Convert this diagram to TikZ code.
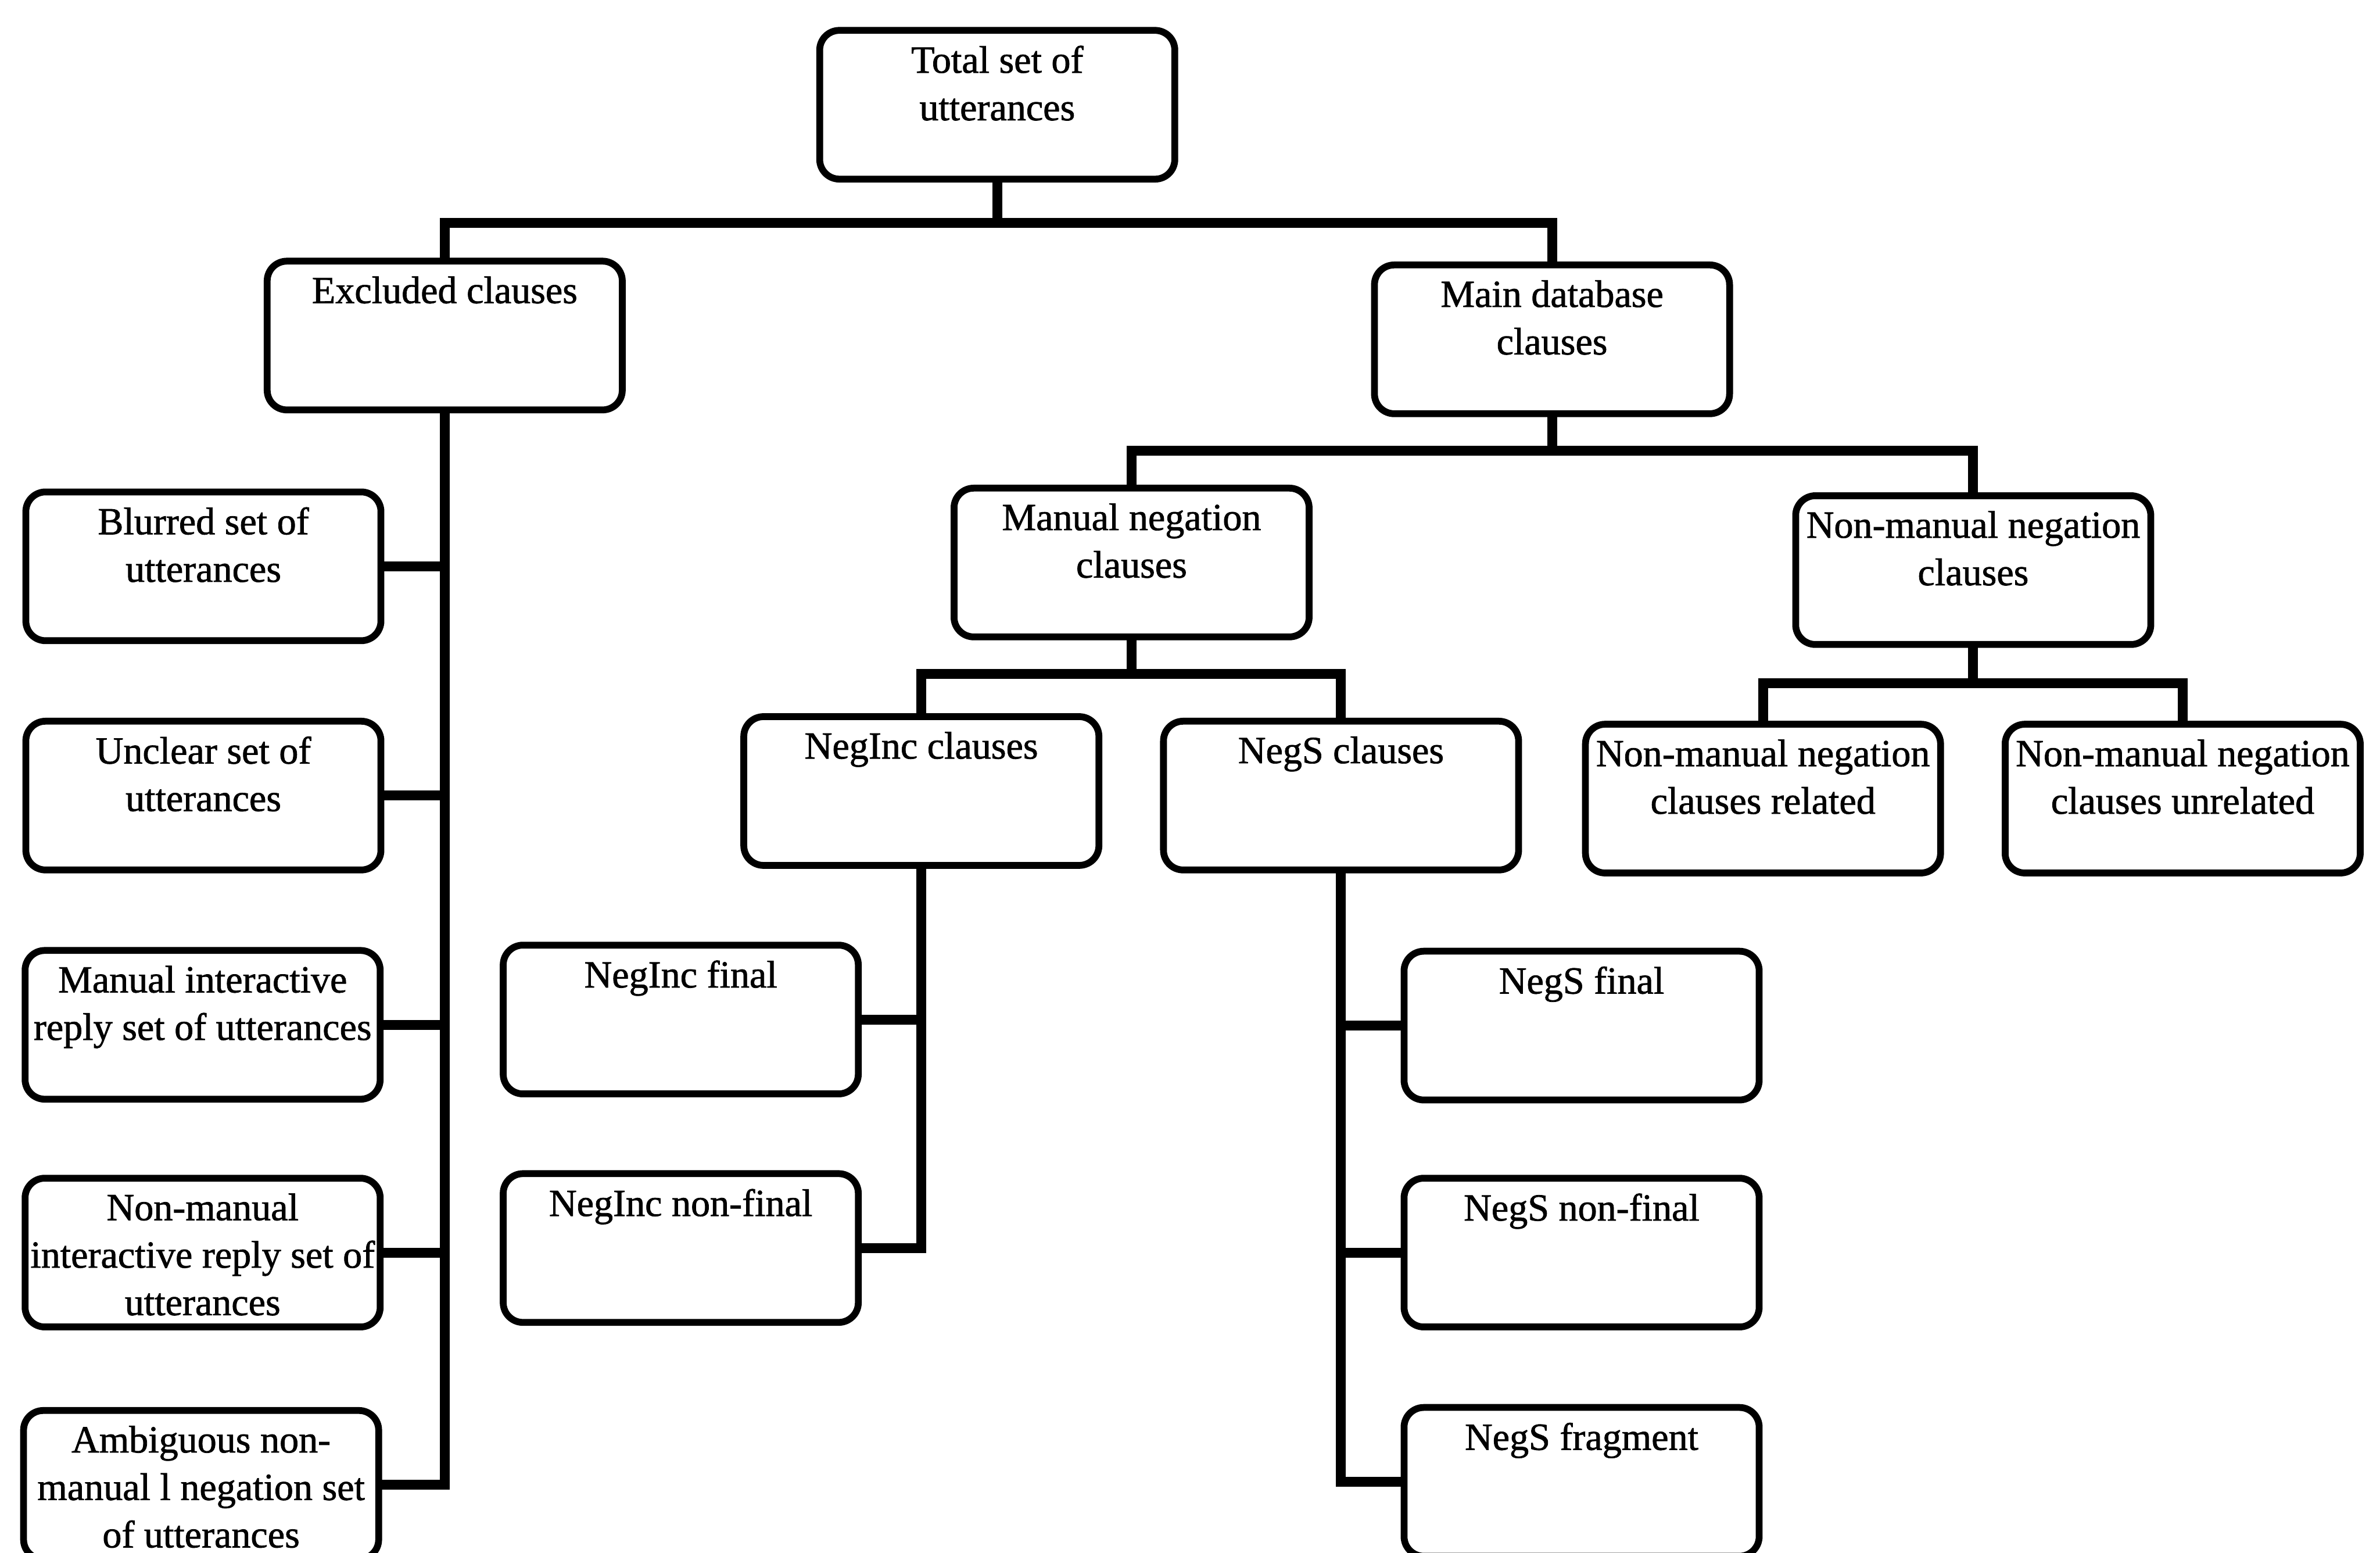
\documentclass[tikz,border=0pt]{standalone}
\usepackage{fontspec}
\setmainfont[FakeBold=1.2]{Liberation Serif}
\usetikzlibrary{backgrounds}
\begin{document}
\begin{tikzpicture}[x=0.02cm,y=-0.02cm,
  cbox/.style={draw, fill=white, line width=0.09cm, rounded corners=0.26cm,
    minimum width=4.68cm, minimum height=1.96cm, inner sep=0pt},
  ctext/.style={anchor=north, align=center, inner sep=0pt,
    font=\fontsize{14.4}{17.8}\selectfont, yshift=-0.24cm},
  conn/.style={line width=0.13cm, line cap=rect, line join=miter}]
\useasboundingbox (0,0) rectangle (1568,1022.7);

% boxes
\node[cbox] (total)   at (657,69)     {};
\node[cbox] (excl)    at (293,221)    {};
\node[cbox] (main)    at (1022.5,223.5) {};
\node[cbox] (blur)    at (134,373)    {};
\node[cbox] (uncl)    at (134,524)    {};
\node[cbox] (mirep)   at (133.5,675)  {};
\node[cbox] (nmirep)  at (133.5,825)  {};
\node[cbox] (ambig)   at (132.5,978)  {};
\node[cbox] (manneg)  at (745.5,370.5) {};
\node[cbox] (nmneg)   at (1300,375.5) {};
\node[cbox] (neginc)  at (607,521)    {};
\node[cbox] (negs)    at (883.5,524)  {};
\node[cbox] (nmrel)   at (1161.5,526) {};
\node[cbox] (nmunrel) at (1438,526)   {};
\node[cbox] (nifin)   at (448.5,671.5) {};
\node[cbox] (ninonf)  at (448.5,822)  {};
\node[cbox] (nsfin)   at (1042,675.5) {};
\node[cbox] (nsnonf)  at (1042,825)   {};
\node[cbox] (nsfrag)  at (1042,976)   {};

% labels
\node[ctext] (total-t)   at (total.north)   {Total set of\\utterances};
\node[ctext] (excl-t)    at (excl.north)    {Excluded clauses};
\node[ctext] (main-t)    at (main.north)    {Main database\\clauses};
\node[ctext] (blur-t)    at (blur.north)    {Blurred set of\\utterances};
\node[ctext] (uncl-t)    at (uncl.north)    {Unclear set of\\utterances};
\node[ctext] (mirep-t)   at (mirep.north)   {Manual interactive\\reply set of utterances};
\node[ctext] (nmirep-t)  at (nmirep.north)  {Non-manual\\interactive reply set of\\utterances};
\node[ctext] (ambig-t)   at (ambig.north)   {Ambiguous non-\\manual l negation set\\of utterances};
\node[ctext] (manneg-t)  at (manneg.north)  {Manual negation\\clauses};
\node[ctext] (nmneg-t)   at (nmneg.north)   {Non-manual negation\\clauses};
\node[ctext] (neginc-t)  at (neginc.north)  {NegInc clauses};
\node[ctext] (negs-t)    at (negs.north)    {NegS clauses};
\node[ctext] (nmrel-t)   at (nmrel.north)   {Non-manual negation\\clauses related};
\node[ctext] (nmunrel-t) at (nmunrel.north) {Non-manual negation\\clauses unrelated};
\node[ctext] (nifin-t)   at (nifin.north)   {NegInc final};
\node[ctext] (ninonf-t)  at (ninonf.north)  {NegInc non-final};
\node[ctext] (nsfin-t)   at (nsfin.north)   {NegS final};
\node[ctext] (nsnonf-t)  at (nsnonf.north)  {NegS non-final};
\node[ctext] (nsfrag-t)  at (nsfrag.north)  {NegS fragment};

% connectors
\begin{scope}[on background layer]
  \coordinate (j1) at (657,147);
  \draw[conn] (total.south) -- (j1) -| (excl.north);
  \draw[conn] (j1) -| (main.north);

  \coordinate (j2) at (1022.5,297);
  \draw[conn] (main.south) -- (j2) -| (manneg.north);
  \draw[conn] (j2) -| (nmneg.north);

  \coordinate (j3) at (745.5,444);
  \draw[conn] (manneg.south) -- (j3) -| (neginc.north);
  \draw[conn] (j3) -| (negs.north);

  \coordinate (j4) at (1300,450);
  \draw[conn] (nmneg.south) -- (j4) -| (nmrel.north);
  \draw[conn] (j4) -| (nmunrel.north);

  % excluded spine
  \draw[conn] (excl.south) -- (excl.south |- ambig.east);
  \foreach \b in {blur,uncl,mirep,nmirep,ambig}
    \draw[conn] (\b.east) -- (\b.east -| excl.south);

  % NegInc spine
  \draw[conn] (neginc.south) -- (neginc.south |- ninonf.east);
  \foreach \b in {nifin,ninonf}
    \draw[conn] (\b.east) -- (\b.east -| neginc.south);

  % NegS spine
  \draw[conn] (negs.south) -- (negs.south |- nsfrag.west);
  \foreach \b in {nsfin,nsnonf,nsfrag}
    \draw[conn] (\b.west) -- (\b.west -| negs.south);
\end{scope}
\end{tikzpicture}
\end{document}
